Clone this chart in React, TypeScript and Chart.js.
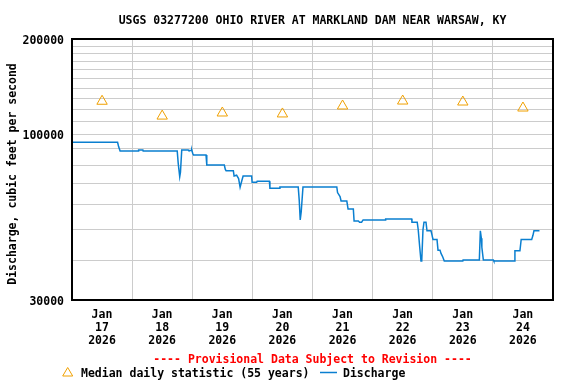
import React, { useEffect, useRef } from 'react';
import { Chart, registerables } from 'chart.js';

Chart.register(...registerables);

const TITLE = 'USGS 03277200 OHIO RIVER AT MARKLAND DAM NEAR WARSAW, KY';
const Y_TITLE = 'Discharge, cubic feet per second';
const PROVISIONAL = '---- Provisional Data Subject to Revision ----';
const MEDIAN_LABEL = 'Median daily statistic (55 years)';
const DISCHARGE_LABEL = 'Discharge';

const monthLabel = 'Jan';
const yearLabel = '2026';
const dayLabels = ['17', '18', '19', '20', '21', '22', '23', '24'];
const dayBoundaryHours = [0, 24, 48, 72, 96, 120, 144, 168, 192];

const yGridValues = [
  30000, 40000, 50000, 60000, 70000, 80000, 90000, 100000,
  110000, 120000, 130000, 140000, 150000, 160000, 170000, 180000, 190000, 200000,
];
const yLabelValues = [30000, 100000, 200000];

// hours since Jan 17 00:00
const medianHours = [12, 36, 60, 84, 108, 132, 156, 180];
const medianCfs = [127200, 114200, 116800, 116000, 122900, 127400, 126500, 121100];

const dischargeHours = [
  0, 18.2, 18.6, 19.2, 26.5, 26.6, 28.3, 28.4, 42.0, 42.4, 43.0, 43.3, 43.8,
  46.4, 46.6, 47.6, 47.8, 48.2, 48.5, 53.5, 53.8, 60.8, 61.2, 61.5, 64.4, 64.7,
  65.7, 66.5, 67.1, 67.7, 68.3, 71.7, 71.9, 73.7, 73.9, 78.8, 79.0, 82.8, 83.0,
  90.3, 90.7, 91.1, 91.5, 92.2, 92.6, 105.7, 106.0, 107.0, 107.4, 109.7, 110.2,
  112.3, 112.6, 114.3, 114.8, 115.6, 116.2, 125.0, 125.2, 135.6, 135.7, 137.8,
  138.2, 138.8, 139.3, 139.6, 140.1, 140.5, 141.3, 141.7, 143.3, 143.6, 144.1,
  145.7, 146.1, 146.9, 147.3, 148.0, 148.6, 156.0, 156.1, 162.6, 163.0, 163.4,
  163.6, 164.2, 168.2, 168.4, 176.6, 176.8, 178.8, 179.3, 183.5, 184.0, 184.4, 186.6,
];
const dischargeCfs = [
  94400, 94400, 91500, 88600, 88600, 89200, 89200, 88600, 88600, 81000, 73500, 76000, 89200,
  89200, 88900, 88900, 89200, 87000, 86100, 86100, 80000, 80000, 77500, 76800, 76800, 73900,
  74300, 72500, 68100, 71000, 73900, 73900, 70600, 70600, 71100, 71100, 67600, 67600, 68200,
  68200, 62000, 53700, 57000, 68200, 68200, 68200, 65500, 63600, 61600, 61600, 58100,
  58100, 53300, 53300, 52800, 52800, 53700, 53700, 54100, 54100, 52800, 52800,
  50000, 44000, 39800, 39800, 50000, 52800, 52800, 49600, 49600, 48500, 46600,
  46600, 43100, 43100, 42100, 41000, 39800, 39800, 40100, 40100, 49600, 47000,
  44000, 40100, 40100, 39800, 39800, 42900, 42900, 46600, 46600, 48000, 49600, 49600,
];

const FONT = '"DejaVu Sans Mono", monospace';
const FONT_SIZE = 11.5;
const BLUE = '#0a7fd0';
const ORANGE = '#f0a000';
const GRID = '#cccccc';

const decorPlugin = {
  id: 'decor',
  afterDraw(chart: any) {
    const { ctx, chartArea } = chart;
    const cx = (chartArea.left + chartArea.right) / 2;
    ctx.save();
    // frame
    ctx.strokeStyle = '#000';
    ctx.lineWidth = 2;
    ctx.strokeRect(chartArea.left, chartArea.top, chartArea.right - chartArea.left, chartArea.bottom - chartArea.top);

    ctx.font = `bold ${FONT_SIZE}px ${FONT}`;
    ctx.textBaseline = 'middle';
    // title
    ctx.fillStyle = '#000';
    ctx.textAlign = 'center';
    ctx.fillText(TITLE, cx, 21.5);
    // y-axis title
    ctx.save();
    ctx.translate(13, 174);
    ctx.rotate(-Math.PI / 2);
    ctx.fillText(Y_TITLE, 0, 0);
    ctx.restore();
    // provisional
    ctx.fillStyle = '#ff0000';
    ctx.fillText(PROVISIONAL, cx, 360.5);
    // legend
    ctx.textAlign = 'left';
    ctx.strokeStyle = ORANGE;
    ctx.lineWidth = 1;
    ctx.beginPath();
    ctx.moveTo(67.7, 367.5);
    ctx.lineTo(72.7, 376);
    ctx.lineTo(62.7, 376);
    ctx.closePath();
    ctx.stroke();
    ctx.fillStyle = '#000';
    ctx.fillText(MEDIAN_LABEL, 81, 374.5);
    ctx.strokeStyle = BLUE;
    ctx.lineWidth = 1.5;
    ctx.beginPath();
    ctx.moveTo(320, 372.5);
    ctx.lineTo(337, 372.5);
    ctx.stroke();
    ctx.fillText(DISCHARGE_LABEL, 343, 374.5);
    ctx.restore();
  },
};

export default function App() {
  const canvasRef = useRef<HTMLCanvasElement | null>(null);

  useEffect(() => {
    const canvas = canvasRef.current;
    if (!canvas) return;
    const chart = new Chart(canvas, {
      type: 'line',
      data: {
        datasets: [
          {
            label: DISCHARGE_LABEL,
            data: dischargeHours.map((h, i) => ({ x: h, y: dischargeCfs[i] })),
            borderColor: BLUE,
            borderWidth: 1.5,
            pointRadius: 0,
            tension: 0,
            fill: false,
          },
          {
            label: MEDIAN_LABEL,
            data: medianHours.map((h, i) => ({ x: h, y: medianCfs[i] })),
            showLine: false,
            pointStyle: 'triangle',
            pointRadius: 6,
            pointBorderWidth: 1,
            borderColor: ORANGE,
            backgroundColor: 'rgba(0,0,0,0)',
            pointBackgroundColor: 'rgba(0,0,0,0)',
            pointBorderColor: ORANGE,
          },
        ],
      },
      options: {
        animation: false,
        responsive: false,
        devicePixelRatio: 1,
        layout: { padding: { left: 0, right: 23, top: 39, bottom: 0 } },
        plugins: {
          legend: { display: false },
          title: { display: false },
          tooltip: { enabled: false },
        },
        scales: {
          x: {
            type: 'linear',
            min: 0,
            max: 192,
            afterBuildTicks: (scale: any) => {
              scale.ticks = dayBoundaryHours.map((v) => ({ value: v }));
            },
            afterFit: (scale: any) => {
              scale.height = 84;
            },
            grid: { color: GRID, lineWidth: 1, drawTicks: false },
            border: { display: false },
            ticks: {
              autoSkip: false,
              maxRotation: 0,
              minRotation: 0,
              padding: 9,
              labelOffset: 30,
              color: '#000',
              font: { family: FONT, size: FONT_SIZE, weight: 'bold', lineHeight: 1.12 },
              callback: (_v: any, i: number) =>
                i < dayLabels.length ? [monthLabel, dayLabels[i], yearLabel] : '',
            },
          },
          y: {
            type: 'logarithmic',
            min: 30000,
            max: 200000,
            afterBuildTicks: (scale: any) => {
              scale.ticks = yGridValues.map((v) => ({ value: v }));
            },
            afterFit: (scale: any) => {
              scale.width = 72;
            },
            grid: { color: GRID, lineWidth: 1, drawTicks: false },
            border: { display: false },
            ticks: {
              autoSkip: false,
              padding: 8,
              labelOffset: 2,
              color: '#000',
              font: { family: FONT, size: FONT_SIZE, weight: 'bold' },
              callback: (v: any) => (yLabelValues.includes(Number(v)) ? String(v) : ''),
            },
          },
        },
      },
      plugins: [decorPlugin],
    });
    return () => chart.destroy();
  }, []);

  return (
    <div style={{ position: 'absolute', left: 0, top: 0, width: 576, height: 384, background: '#fff' }}>
      <canvas ref={canvasRef} width={576} height={384} style={{ display: 'block', width: 576, height: 384 }} />
    </div>
  );
}
